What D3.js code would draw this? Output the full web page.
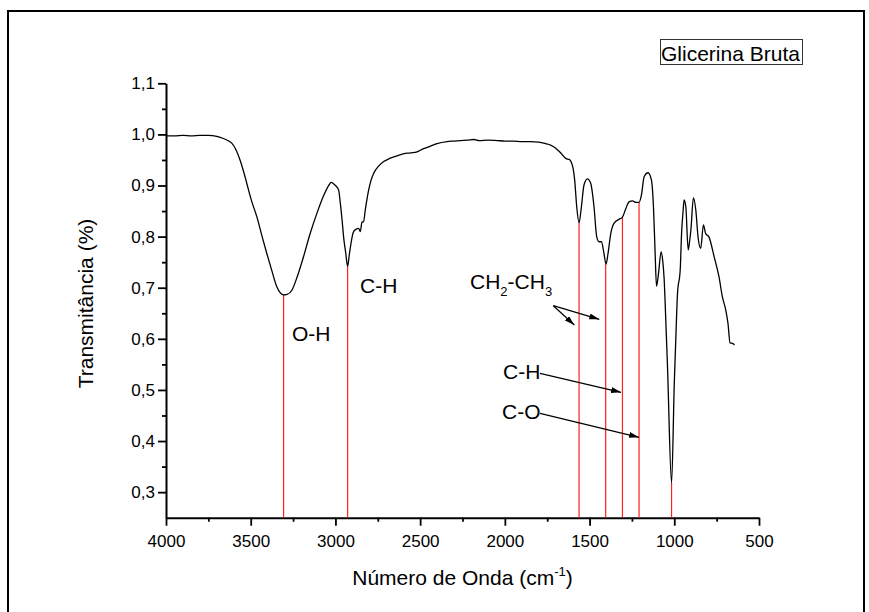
<!DOCTYPE html>
<html>
<head>
<meta charset="utf-8">
<script src="https://cdn.jsdelivr.net/npm/d3@7"></script>
<style>
  html, body { margin: 0; padding: 0; background: #fff; }
  svg { display: block; font-family: "Liberation Sans", Arial, sans-serif; }
</style>
</head>
<body>
<svg id="chart" width="869" height="612"></svg>
<script>
// ---- data ----
const wavenumber = [4000,3950,3900,3850,3800,3750,3700,3661,3630,3612,3590,3563,3540,3523,3495,3464,3435,3405,3375,3346,3325,3307,3285,3257,3225,3188,3150,3109,3070,3040,3025,3010,3000,2981,2971,2960,2952,2940,2928,2918,2908,2895,2880,2863,2853,2843,2834,2824,2804,2790,2774,2745,2715,2680,2636,2600,2557,2518,2480,2439,2400,2341,2300,2262,2220,2183,2150,2100,2045,2000,1950,1900,1848,1800,1760,1730,1700,1671,1650,1635,1621,1602,1588,1576,1562,1548,1533,1513,1493,1474,1458,1444,1430,1415,1403,1391,1375,1356,1326,1306,1286,1267,1247,1227,1208,1194,1178,1155,1135,1123,1113,1105,1093,1078,1068,1060,1048,1040,1016,1000,990,981,965,957,948,942,932,918,910,902,887,873,860,844,828,815,795,765,736,716,696,683,671,656,645];
const transmittance = [0.997,0.997,0.998,0.997,0.998,0.998,0.996,0.992,0.987,0.983,0.972,0.950,0.925,0.904,0.870,0.839,0.803,0.767,0.733,0.702,0.690,0.686,0.687,0.695,0.722,0.761,0.805,0.846,0.880,0.900,0.906,0.903,0.900,0.891,0.865,0.830,0.800,0.770,0.742,0.765,0.787,0.808,0.814,0.816,0.810,0.829,0.829,0.852,0.891,0.910,0.924,0.938,0.947,0.953,0.958,0.962,0.964,0.966,0.972,0.977,0.982,0.986,0.987,0.988,0.989,0.990,0.988,0.989,0.988,0.987,0.987,0.986,0.986,0.985,0.982,0.979,0.973,0.964,0.956,0.952,0.951,0.940,0.911,0.859,0.827,0.859,0.901,0.913,0.904,0.859,0.800,0.790,0.790,0.767,0.746,0.767,0.806,0.826,0.834,0.838,0.855,0.868,0.870,0.867,0.867,0.881,0.917,0.925,0.911,0.859,0.767,0.703,0.728,0.770,0.752,0.718,0.617,0.545,0.318,0.513,0.610,0.689,0.735,0.806,0.850,0.872,0.859,0.774,0.790,0.813,0.876,0.852,0.800,0.777,0.823,0.806,0.799,0.761,0.721,0.682,0.656,0.630,0.592,0.591,0.588];

// red marker lines: wavenumber and top transmittance
const markerWave = [3306, 2928, 1562, 1405, 1306, 1208, 1016];
const markerTop  = [0.686, 0.742, 0.827, 0.746, 0.838, 0.867, 0.318];

const xTicks = [4000,3500,3000,2500,2000,1500,1000,500];
const xMinorTicks = [3750,3250,2750,2250,1750,1250,750];
const yTicks = [0.3,0.4,0.5,0.6,0.7,0.8,0.9,1.0,1.1];
const yMinorTicks = [0.35,0.45,0.55,0.65,0.75,0.85,0.95,1.05];

const legendLabel = "Glicerina Bruta";
const xTitle = "Número de Onda (cm";
const yTitle = "Transmitância (%)";

// ---- layout ----
const svg = d3.select("#chart");
const mLeft = 166, mRight = 759, mTop = 83.3, mBottom = 517.7;

const x = d3.scaleLinear().domain([4000, 500]).range([mLeft, mRight]);
const y = d3.scaleLinear().domain([0.25, 1.1]).range([mBottom, mTop]);

// outer frame
svg.append("rect").attr("x", 8).attr("y", 11).attr("width", 856).attr("height", 640)
  .attr("fill", "none").attr("stroke", "#000").attr("stroke-width", 2);

const fmt = d => d3.format(".1f")(d).replace(".", ",");

// minor ticks
svg.append("g").attr("transform", `translate(0,${mBottom})`)
  .call(d3.axisBottom(x).tickValues(xMinorTicks).tickSize(4).tickFormat(""))
  .call(g => g.select(".domain").remove())
  .call(g => g.selectAll("line").attr("stroke-width", 1.8));
svg.append("g").attr("transform", `translate(${mLeft},0)`)
  .call(d3.axisLeft(y).tickValues(yMinorTicks).tickSize(4).tickFormat(""))
  .call(g => g.select(".domain").remove())
  .call(g => g.selectAll("line").attr("stroke-width", 1.8));

// major axes
const xAxis = svg.append("g").attr("transform", `translate(0,${mBottom})`)
  .call(d3.axisBottom(x).tickValues(xTicks).tickSize(8).tickSizeOuter(0).tickPadding(9.5).tickFormat(d3.format("d")));
const yAxis = svg.append("g").attr("transform", `translate(${mLeft},0)`)
  .call(d3.axisLeft(y).tickValues(yTicks).tickSize(8).tickSizeOuter(0).tickPadding(3).tickFormat(fmt));
[xAxis, yAxis].forEach(g => {
  g.select(".domain").attr("stroke-width", 2);
  g.selectAll("line").attr("stroke-width", 1.8);
  g.selectAll("text").attr("font-size", 17).attr("font-family", "Liberation Sans, Arial, sans-serif").attr("fill", "#000");
});

// red marker lines
svg.append("g").selectAll("line").data(markerWave).join("line")
  .attr("x1", d => x(d)).attr("x2", d => x(d))
  .attr("y1", (d, i) => y(markerTop[i])).attr("y2", y(0.25))
  .attr("stroke", "#ff2020").attr("stroke-width", 1.2);

// spectrum
const pts = wavenumber.map((w, i) => [w, transmittance[i]]);
svg.append("path").datum(pts)
  .attr("fill", "none").attr("stroke", "#000").attr("stroke-width", 1.3)
  .attr("stroke-linejoin", "round")
  .attr("d", d3.line().x(d => x(d[0])).y(d => y(d[1])).curve(d3.curveMonotoneX));

// axis titles
const xt = svg.append("text").attr("x", (mLeft + mRight) / 2).attr("y", 585)
  .attr("text-anchor", "middle").attr("font-size", 21).attr("fill", "#000");
xt.append("tspan").text(xTitle);
xt.append("tspan").attr("font-size", 13).attr("dy", -9).text("-1");
xt.append("tspan").attr("dy", 9).text(")");

svg.append("text").attr("transform", `translate(93,${(mTop + mBottom) / 2 + 3}) rotate(-90)`)
  .attr("text-anchor", "middle").attr("font-size", 21).attr("fill", "#000").text(yTitle);

// legend box
svg.append("rect").attr("x", 660.5).attr("y", 39.5).attr("width", 142).attr("height", 25)
  .attr("fill", "#fff").attr("stroke", "#333").attr("stroke-width", 1);
svg.append("text").attr("x", 661).attr("y", 61).attr("font-size", 21).attr("fill", "#000").text(legendLabel);

// annotations
svg.append("defs").append("marker").attr("id", "arr").attr("viewBox", "0 0 10 6")
  .attr("refX", 10).attr("refY", 3).attr("markerWidth", 10).attr("markerHeight", 6)
  .attr("markerUnits", "userSpaceOnUse").attr("orient", "auto")
  .append("path").attr("d", "M0,0 L10,3 L0,6 Z").attr("fill", "#000");

function label(xp, yp, parts) {
  const t = svg.append("text").attr("x", xp).attr("y", yp).attr("font-size", 21).attr("fill", "#000");
  parts.forEach(p => {
    if (p.sub) t.append("tspan").attr("font-size", 13).attr("dy", 7).text(p.t);
    else t.append("tspan").attr("dy", p.back ? -7 : 0).text(p.t);
  });
}
label(292, 341, [{t: "O-H"}]);
label(360, 292.7, [{t: "C-H"}]);
label(470, 289.3, [{t: "CH"}, {t: "2", sub: true}, {t: "-CH", back: true}, {t: "3", sub: true}]);
label(503, 379.3, [{t: "C-H"}]);
label(502, 419.3, [{t: "C-O"}]);

const arrows = [
  [553.3, 305.7, 574.3, 325],
  [553.3, 305.7, 599.3, 319.3],
  [540, 373.3, 621, 392.3],
  [540, 413.3, 639, 437.3]
];
svg.append("g").selectAll("line").data(arrows).join("line")
  .attr("x1", d => d[0]).attr("y1", d => d[1]).attr("x2", d => d[2]).attr("y2", d => d[3])
  .attr("stroke", "#000").attr("stroke-width", 1.2).attr("marker-end", "url(#arr)");
</script>
</body>
</html>
